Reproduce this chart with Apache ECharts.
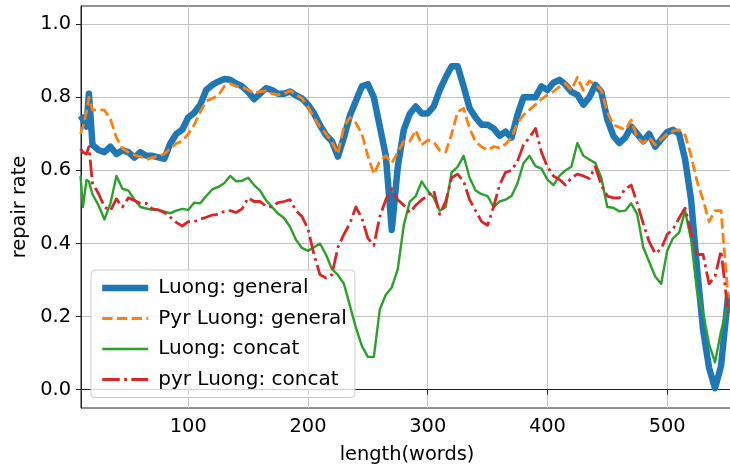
<!DOCTYPE html>
<html>
<head>
<meta charset="utf-8">
<script src="https://cdn.jsdelivr.net/npm/echarts@6/dist/echarts.min.js"></script>
<style>
html,body{margin:0;padding:0;background:#fff;}
#chart{width:730px;height:465px;}
</style>
</head>
<body>
<div id="chart"></div>
<script>
// x positions (length in words)
var xs = [10,12,15,17,20,25,30,35,40,45,50,55,60,65,70,75,80,85,90,95,
  100,105,110,115,120,125,130,135,140,145,150,155,160,165,170,175,180,185,190,195,
  200,205,210,215,220,225,230,235,240,245,250,255,260,265,270,275,280,285,290,295,
  300,305,310,315,320,325,330,335,340,345,350,355,360,365,370,375,380,385,390,395,
  400,405,410,415,420,425,430,435,440,445,450,455,460,465,470,475,480,485,490,495,
  500,505,510,515,520,525,530,535,540,545,551];

var luongGeneral = [0.75,0.74,0.72,0.81,0.67,0.656,0.65,0.665,0.645,0.655,0.65,0.635,0.65,0.64,0.64,0.636,0.632,0.674,0.70,0.712,
  0.745,0.758,0.78,0.82,0.834,0.843,0.85,0.848,0.838,0.83,0.815,0.795,0.81,0.825,0.82,0.81,0.81,0.816,0.805,0.797,
  0.78,0.756,0.724,0.697,0.68,0.638,0.69,0.75,0.79,0.83,0.836,0.80,0.72,0.64,0.437,0.61,0.711,0.755,0.775,0.756,
  0.756,0.775,0.82,0.855,0.885,0.885,0.83,0.77,0.745,0.725,0.725,0.715,0.695,0.706,0.69,0.752,0.80,0.80,0.80,0.83,
  0.82,0.84,0.848,0.835,0.815,0.807,0.78,0.80,0.834,0.815,0.74,0.695,0.675,0.69,0.72,0.70,0.68,0.70,0.665,0.685,
  0.705,0.711,0.70,0.63,0.52,0.33,0.165,0.06,0.004,0.065,0.26];

var pyrLuongGeneral = [0.70,0.72,0.76,0.80,0.765,0.766,0.765,0.74,0.69,0.66,0.65,0.642,0.638,0.63,0.635,0.64,0.645,0.66,0.674,0.68,
  0.70,0.725,0.76,0.79,0.797,0.805,0.83,0.838,0.83,0.828,0.82,0.811,0.816,0.818,0.81,0.807,0.81,0.818,0.808,0.797,
  0.775,0.745,0.72,0.70,0.678,0.645,0.72,0.745,0.73,0.70,0.64,0.59,0.625,0.64,0.62,0.65,0.68,0.68,0.71,0.67,
  0.683,0.678,0.655,0.65,0.70,0.76,0.77,0.715,0.678,0.665,0.656,0.665,0.662,0.672,0.69,0.73,0.752,0.766,0.78,0.795,
  0.807,0.816,0.829,0.838,0.82,0.855,0.82,0.845,0.835,0.82,0.76,0.725,0.718,0.711,0.738,0.69,0.675,0.69,0.67,0.685,
  0.70,0.708,0.711,0.697,0.64,0.57,0.52,0.46,0.49,0.49,0.25];

var luongConcat = [0.585,0.50,0.574,0.57,0.535,0.505,0.466,0.51,0.585,0.55,0.545,0.52,0.50,0.496,0.492,0.492,0.487,0.483,0.49,0.495,
  0.492,0.512,0.51,0.53,0.548,0.555,0.565,0.585,0.57,0.572,0.58,0.56,0.545,0.518,0.50,0.482,0.47,0.446,0.41,0.388,
  0.38,0.39,0.40,0.37,0.33,0.314,0.29,0.23,0.17,0.12,0.09,0.09,0.22,0.26,0.28,0.33,0.45,0.515,0.53,0.57,
  0.545,0.525,0.49,0.50,0.595,0.61,0.64,0.58,0.545,0.535,0.53,0.50,0.515,0.52,0.53,0.565,0.62,0.64,0.612,0.605,
  0.575,0.56,0.585,0.60,0.61,0.675,0.64,0.63,0.62,0.58,0.50,0.498,0.488,0.49,0.51,0.48,0.39,0.35,0.31,0.29,
  0.38,0.415,0.43,0.49,0.41,0.27,0.21,0.125,0.075,0.16,0.24];

var pyrLuongConcat = [0.66,0.65,0.645,0.665,0.565,0.537,0.50,0.49,0.522,0.50,0.525,0.518,0.51,0.51,0.495,0.492,0.485,0.472,0.458,0.448,
  0.46,0.46,0.467,0.472,0.478,0.48,0.488,0.49,0.485,0.495,0.525,0.515,0.515,0.502,0.50,0.512,0.515,0.52,0.49,0.474,
  0.44,0.37,0.315,0.306,0.315,0.39,0.425,0.455,0.50,0.47,0.415,0.395,0.474,0.52,0.55,0.52,0.505,0.485,0.505,0.52,
  0.53,0.545,0.48,0.515,0.58,0.59,0.57,0.52,0.49,0.46,0.45,0.50,0.56,0.595,0.60,0.625,0.67,0.69,0.715,0.65,
  0.61,0.585,0.575,0.56,0.58,0.59,0.585,0.578,0.61,0.56,0.53,0.525,0.525,0.55,0.56,0.51,0.455,0.405,0.373,0.385,
  0.425,0.44,0.47,0.497,0.43,0.37,0.37,0.29,0.31,0.38,0.21];

// tick values
var xTicks = [100,200,300,400,500];
var yTicks = [0.0,0.2,0.4,0.6,0.8,1.0];

var seriesNames = ['Luong: general','Pyr Luong: general','Luong: concat','pyr Luong: concat'];
var seriesValues = [luongGeneral, pyrLuongGeneral, luongConcat, pyrLuongConcat];
var colors = ['#1f77b4','#ff7f0e','#2ca02c','#d62728'];
var lineStyles = [
  {width:6.5, type:'solid'},
  {width:2.8, type:[10.3,4.4]},
  {width:2.4, type:'solid'},
  {width:2.8, type:[17.5,4.4,2.8,4.4]}
];

var FONT = 'DejaVu Sans';
var FS = 19.4;
var chart = echarts.init(document.getElementById('chart'), null, {renderer:'canvas'});

function pair(vals){ return xs.map(function(x,i){ return [x, vals[i]]; }); }

var series = seriesNames.map(function(n,i){
  return {
    name:n, type:'line', data:pair(seriesValues[i]),
    symbol:'none', showSymbol:false, smooth:false,
    lineStyle:{color:colors[i], width:lineStyles[i].width, type:lineStyles[i].type, join:'round', cap:'butt'},
    itemStyle:{color:colors[i]},
    z:2+i, animation:false
  };
});

chart.setOption({
  backgroundColor:'#ffffff',
  animation:false,
  grid:{left:81, top:6, right:-3, bottom:57, outerBoundsMode:'none', containLabel:false,
    show:true, borderColor:'#222', borderWidth:1, backgroundColor:'transparent'},
  xAxis:{
    type:'value', min:10.4, max:555, splitNumber:5,
    name:'length(words)', nameLocation:'middle', nameGap:37,
    nameTextStyle:{fontFamily:FONT, fontSize:FS, color:'#000'},
    axisLine:{show:true, lineStyle:{color:'#222', width:1}},
    axisTick:{show:true, inside:false, length:5, customValues:xTicks, lineStyle:{color:'#222', width:1}},
    axisLabel:{margin:9, fontFamily:FONT, fontSize:FS, color:'#000', hideOverlap:false, customValues:xTicks,
      formatter:function(v){ return (Math.abs(v/100-Math.round(v/100))<1e-6) ? String(Math.round(v)) : ''; }},
    splitLine:{show:true, lineStyle:{color:'#c4c4c4', width:1}}
  },
  yAxis:{
    type:'value', min:-0.05, max:1.05, splitNumber:5,
    name:'repair rate', nameLocation:'middle', nameGap:48, nameRotate:90,
    nameTextStyle:{fontFamily:FONT, fontSize:FS, color:'#000'},
    axisLine:{show:true, lineStyle:{color:'#222', width:1}},
    axisTick:{show:true, inside:false, length:5, customValues:yTicks, lineStyle:{color:'#222', width:1}},
    axisLabel:{margin:10, fontFamily:FONT, fontSize:FS, color:'#000', hideOverlap:false, customValues:yTicks,
      formatter:function(v){ return (Math.abs(v/0.2-Math.round(v/0.2))<1e-6) ? (Math.round(v*10)/10).toFixed(1) : ''; }},
    splitLine:{show:true, lineStyle:{color:'#c4c4c4', width:1}}
  },
  legend:{
    show:true, orient:'vertical', left:91, top:270,
    itemWidth:46, itemHeight:17, itemGap:10.5,
    padding:[8,8,8,8],
    backgroundColor:'rgba(255,255,255,0.8)', borderColor:'#cccccc', borderWidth:1, borderRadius:4,
    textStyle:{fontFamily:FONT, fontSize:20, lineHeight:20, color:'#000', padding:[0,0,0,5]},
    lineStyle:{width:'inherit', type:'inherit'},
    itemStyle:{color:'rgba(0,0,0,0)', borderColor:'rgba(0,0,0,0)', borderWidth:0, opacity:0},
    data:seriesNames
  },
  series:series
});
</script>
</body>
</html>
